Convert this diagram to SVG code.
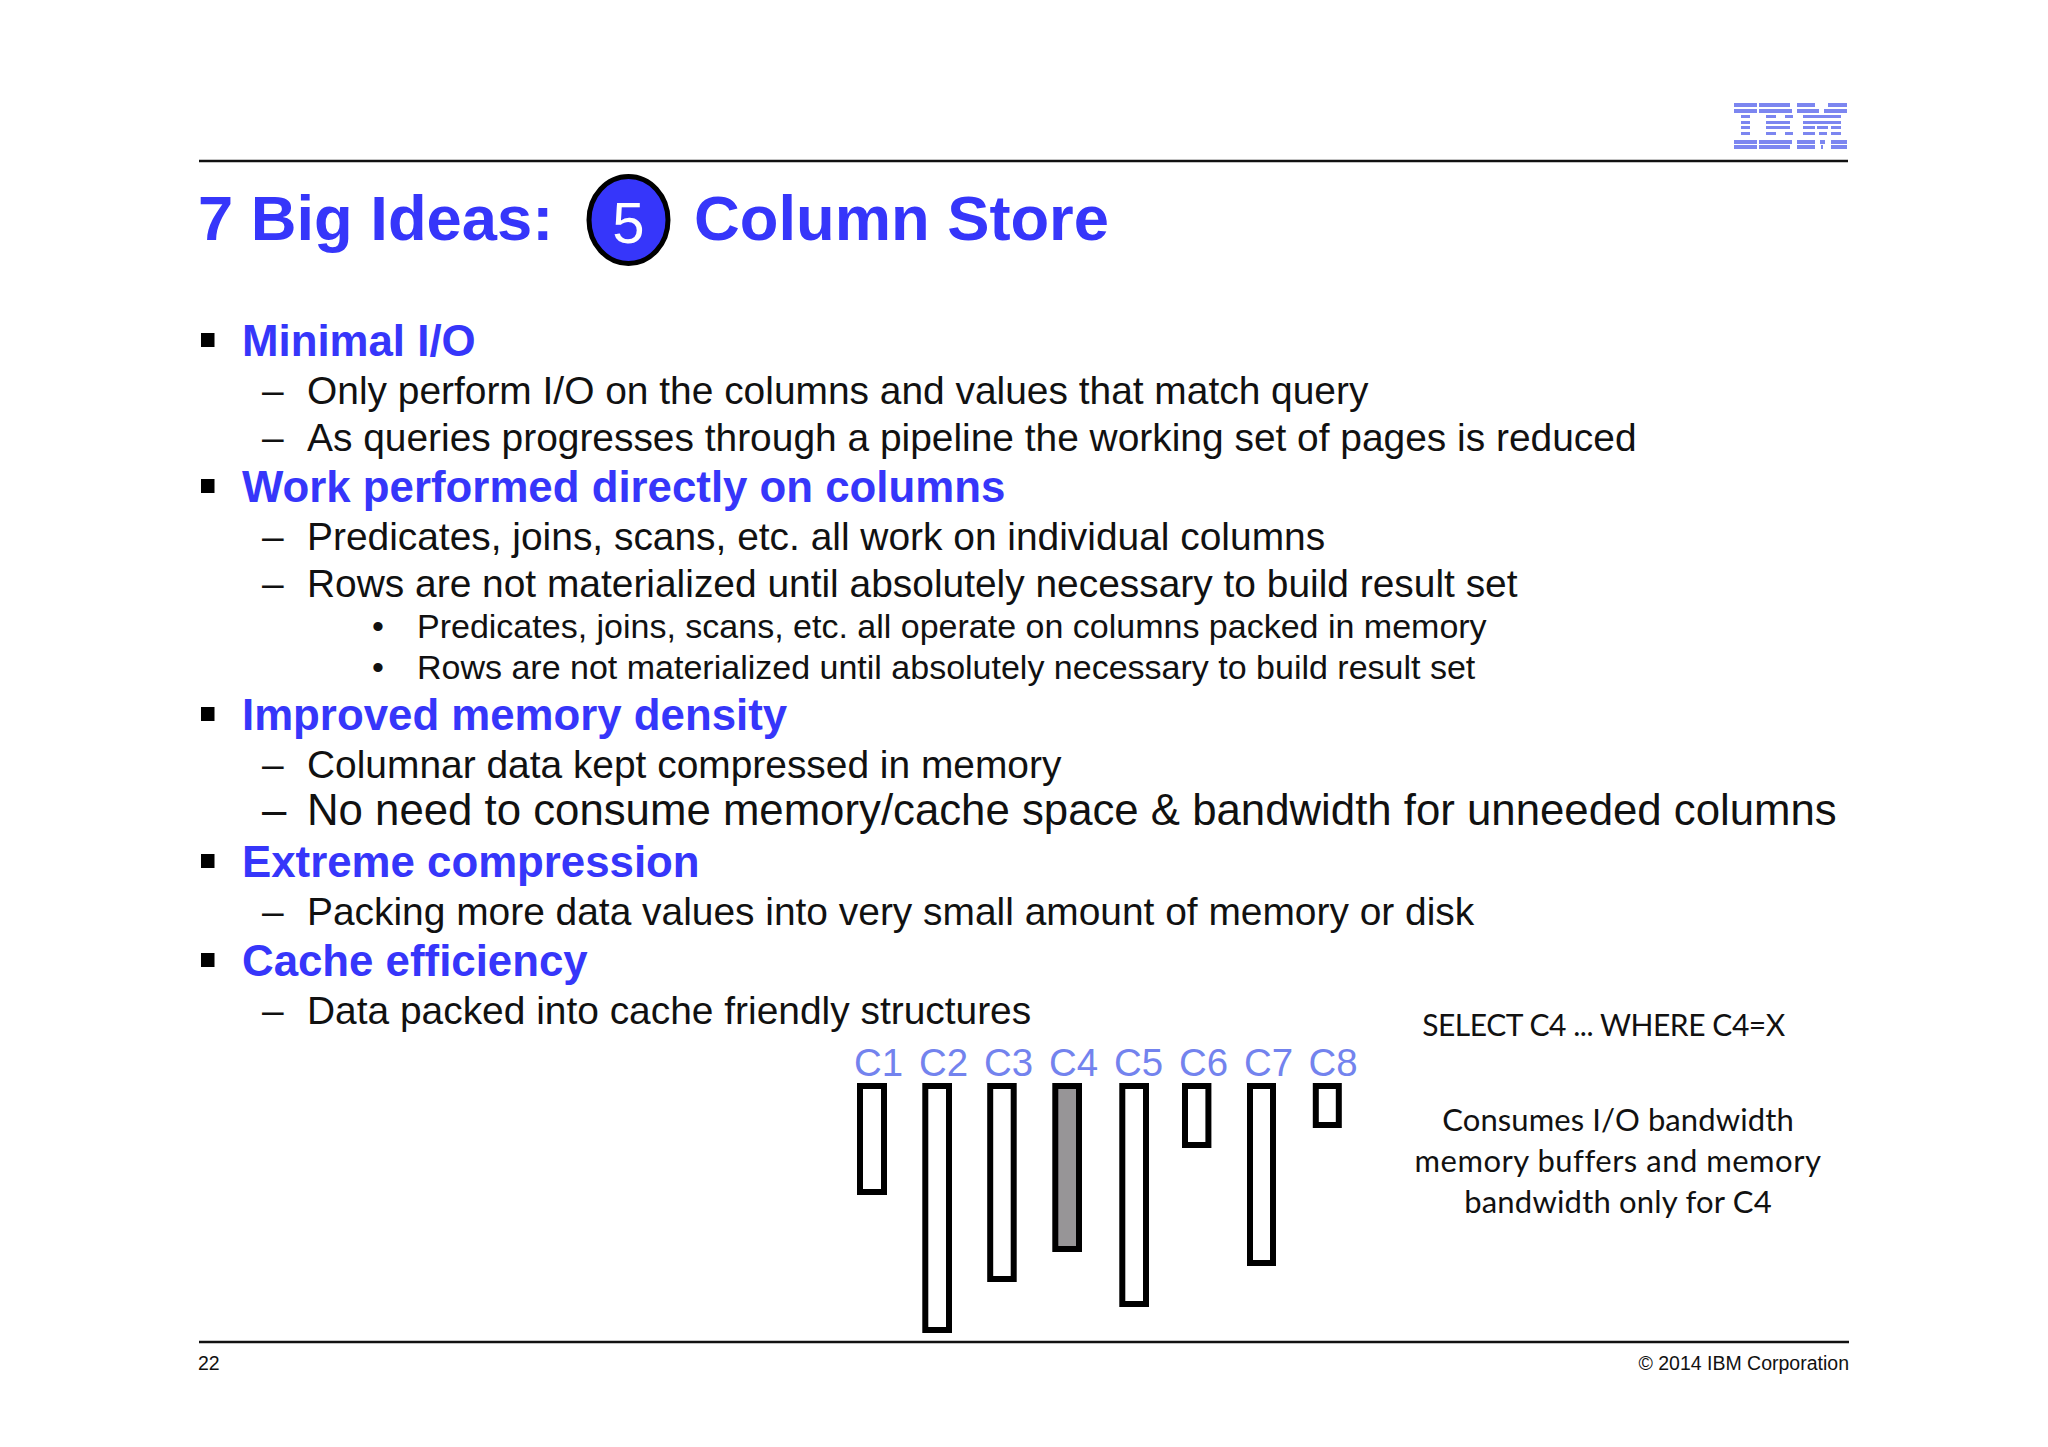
<svg xmlns="http://www.w3.org/2000/svg" width="2048" height="1447" viewBox="0 0 2048 1447">
<defs><filter id="soft" x="-5%" y="-5%" width="110%" height="110%"><feGaussianBlur stdDeviation="0.5"/></filter></defs>
<style>
text{font-family:"Liberation Sans",Arial,sans-serif}
.h{font-weight:bold;font-size:43.800px;fill:#3636fa}
.t{font-weight:bold;font-size:63.300px;fill:#3636fa}
.b{font-size:38.900px;fill:#111}
.s{font-size:34px;fill:#111}
.c{font-size:38.400px;fill:#7383ee}
.f{font-size:19.500px;fill:#111}
.n{font-family:Lato,"Liberation Sans",sans-serif;font-size:31px;fill:#111;text-anchor:middle}
.bar{fill:#fff;stroke:#000;stroke-width:6}
.rule{stroke:#111;stroke-width:2.500}
.sq{fill:#000}
.ibm{fill:#7b86f0}
</style>
<rect width="2048" height="1447" fill="#fff"/>
<g id="logo" class="ibm" filter="url(#soft)">
<path d="M1734 103h23v4h-23zM1759 103h31v4h-31zM1797 103h18v4h-18zM1828 103h19v4h-19zM1734 109h23v4h-23zM1759 109h33v4h-33zM1797 109h22v4h-22zM1824 109h23v4h-23zM1741 115h9v3h-9zM1766 115h10v3h-10zM1785 115h8v3h-8zM1803 115h38v3h-38zM1741 121h9v3h-9zM1766 121h24v3h-24zM1803 121h38v3h-38zM1741 126h9v3h-9zM1766 126h24v3h-24zM1803 126h12v3h-12zM1817 126h11v3h-11zM1831 126h10v3h-10zM1741 132h9v3h-9zM1766 132h10v3h-10zM1785 132h8v3h-8zM1803 132h12v3h-12zM1819 132h8v3h-8zM1831 132h10v3h-10zM1734 140h23v4h-23zM1759 140h33v4h-33zM1797 140h18v4h-18zM1820 140h5v4h-5zM1831 140h16v4h-16zM1734 145h23v4h-23zM1759 145h31v4h-31zM1797 145h18v4h-18zM1821 145h2v4h-2zM1831 145h16v4h-16z"/>
</g>
<g id="rules">
<line class="rule" x1="199" y1="161" x2="1848" y2="161"/>
<line class="rule" x1="199" y1="1342" x2="1849" y2="1342"/>
</g>
<g id="title">
<text class="t" x="198" y="240">7 Big Ideas:</text>
<ellipse cx="628.500" cy="220" rx="39.500" ry="43.500" fill="#3636fa" stroke="#000" stroke-width="5"/>
<text x="628.500" y="243" font-size="58" fill="#fff" text-anchor="middle">5</text>
<text class="t" x="694" y="240">Column Store</text>
</g>
<g id="body">
<rect class="sq" x="201" y="333" width="13.500" height="14"/>
<text class="h" x="242" y="356">Minimal I/O</text>
<text class="b" x="262" y="404">–</text>
<text class="b" x="307" y="404">Only perform I/O on the columns and values that match query</text>
<text class="b" x="262" y="451">–</text>
<text class="b" x="307" y="451">As queries progresses through a pipeline the working set of pages is reduced</text>
<rect class="sq" x="201" y="479" width="13.500" height="14"/>
<text class="h" x="242" y="502">Work performed directly on columns</text>
<text class="b" x="262" y="550">–</text>
<text class="b" x="307" y="550">Predicates, joins, scans, etc. all work on individual columns</text>
<text class="b" x="262" y="597">–</text>
<text class="b" x="307" y="597">Rows are not materialized until absolutely necessary to build result set</text>
<text class="s" x="372" y="638">•</text>
<text class="s" x="417" y="638">Predicates, joins, scans, etc. all operate on columns packed in memory</text>
<text class="s" x="372" y="679">•</text>
<text class="s" x="417" y="679">Rows are not materialized until absolutely necessary to build result set</text>
<rect class="sq" x="201" y="707" width="13.500" height="14"/>
<text class="h" x="242" y="730">Improved memory density</text>
<text class="b" x="262" y="778">–</text>
<text class="b" x="307" y="778">Columnar data kept compressed in memory</text>
<text x="262" y="825" font-size="43.750" fill="#111">–</text>
<text x="307" y="825" font-size="43.750" fill="#111">No need to consume memory/cache space &amp; bandwidth for unneeded columns</text>
<rect class="sq" x="201" y="854" width="13.500" height="14"/>
<text class="h" x="242" y="877">Extreme compression</text>
<text class="b" x="262" y="925">–</text>
<text class="b" x="307" y="925">Packing more data values into very small amount of memory or disk</text>
<rect class="sq" x="201" y="953" width="13.500" height="14"/>
<text class="h" x="242" y="976">Cache efficiency</text>
<text class="b" x="262" y="1024">–</text>
<text class="b" x="307" y="1024">Data packed into cache friendly structures</text>
</g>
<g id="columns">
<g id="c1"><text class="c" x="854" y="1076">C1</text><rect class="bar" x="860" y="1086" width="24" height="106"/></g>
<g id="c2"><text class="c" x="919" y="1076">C2</text><rect class="bar" x="925.300" y="1086" width="23.700" height="244"/></g>
<g id="c3"><text class="c" x="984" y="1076">C3</text><rect class="bar" x="990.200" y="1086" width="23.500" height="193"/></g>
<g id="c4"><text class="c" x="1049" y="1076">C4</text><rect class="bar" x="1055.300" y="1086" width="23.700" height="163" style="fill:#979597"/></g>
<g id="c5"><text class="c" x="1114" y="1076">C5</text><rect class="bar" x="1122.300" y="1086" width="23.700" height="218"/></g>
<g id="c6"><text class="c" x="1179" y="1076">C6</text><rect class="bar" x="1185" y="1086" width="23.400" height="59"/></g>
<g id="c7"><text class="c" x="1244" y="1076">C7</text><rect class="bar" x="1250" y="1086" width="23" height="177"/></g>
<g id="c8"><text class="c" x="1308.500" y="1076">C8</text><rect class="bar" x="1315.800" y="1086" width="23" height="39"/></g>
</g>
<g id="notes">
<text class="n" x="1603.500" y="1036" style="font-size:30px;letter-spacing:-.45px">SELECT C4 ... WHERE C4=X</text>
<text class="n" x="1618" y="1131" style="letter-spacing:.1px">Consumes I/O bandwidth</text>
<text class="n" x="1618" y="1172" style="letter-spacing:.5px">memory buffers and memory</text>
<text class="n" x="1618" y="1213" style="letter-spacing:.2px">bandwidth only for C4</text>
</g>
<g id="footer">
<text class="f" x="198" y="1370">22</text>
<text class="f" x="1849" y="1370" text-anchor="end">© 2014 IBM Corporation</text>
</g>
</svg>
